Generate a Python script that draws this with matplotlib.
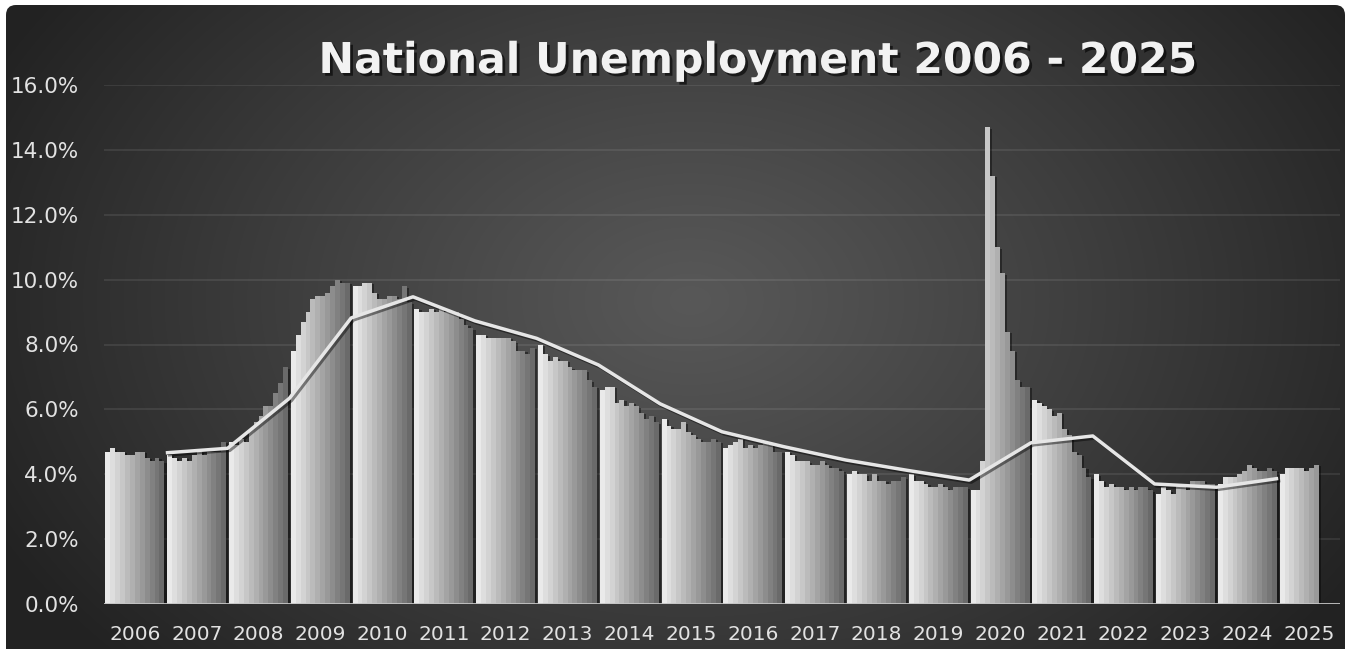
import numpy as np
import matplotlib
matplotlib.use("Agg")
import matplotlib.pyplot as plt
from matplotlib import patheffects as pe
from matplotlib.patches import FancyBboxPatch

# ---------------- data ----------------
years = [str(y) for y in range(2006, 2026)]
months = ["Jan", "Feb", "Mar", "Apr", "May", "Jun",
          "Jul", "Aug", "Sep", "Oct", "Nov", "Dec"]

u2006 = [4.7, 4.8, 4.7, 4.7, 4.6, 4.6, 4.7, 4.7, 4.5, 4.4, 4.5, 4.4]
u2007 = [4.6, 4.5, 4.4, 4.5, 4.4, 4.6, 4.7, 4.6, 4.7, 4.7, 4.7, 5.0]
u2008 = [5.0, 4.9, 5.1, 5.0, 5.4, 5.6, 5.8, 6.1, 6.1, 6.5, 6.8, 7.3]
u2009 = [7.8, 8.3, 8.7, 9.0, 9.4, 9.5, 9.5, 9.6, 9.8, 10.0, 9.9, 9.9]
u2010 = [9.8, 9.8, 9.9, 9.9, 9.6, 9.4, 9.4, 9.5, 9.5, 9.4, 9.8, 9.3]
u2011 = [9.1, 9.0, 9.0, 9.1, 9.0, 9.1, 9.0, 9.0, 9.0, 8.8, 8.6, 8.5]
u2012 = [8.3, 8.3, 8.2, 8.2, 8.2, 8.2, 8.2, 8.1, 7.8, 7.8, 7.7, 7.9]
u2013 = [8.0, 7.7, 7.5, 7.6, 7.5, 7.5, 7.3, 7.2, 7.2, 7.2, 6.9, 6.7]
u2014 = [6.6, 6.7, 6.7, 6.2, 6.3, 6.1, 6.2, 6.1, 5.9, 5.7, 5.8, 5.6]
u2015 = [5.7, 5.5, 5.4, 5.4, 5.6, 5.3, 5.2, 5.1, 5.0, 5.0, 5.1, 5.0]
u2016 = [4.8, 4.9, 5.0, 5.1, 4.8, 4.9, 4.8, 4.9, 5.0, 4.9, 4.7, 4.7]
u2017 = [4.7, 4.6, 4.4, 4.4, 4.4, 4.3, 4.3, 4.4, 4.3, 4.2, 4.2, 4.1]
u2018 = [4.0, 4.1, 4.0, 4.0, 3.8, 4.0, 3.8, 3.8, 3.7, 3.8, 3.8, 3.9]
u2019 = [4.0, 3.8, 3.8, 3.7, 3.6, 3.6, 3.7, 3.6, 3.5, 3.6, 3.6, 3.6]
u2020 = [3.5, 3.5, 4.4, 14.7, 13.2, 11.0, 10.2, 8.4, 7.8, 6.9, 6.7, 6.7]
u2021 = [6.3, 6.2, 6.1, 6.0, 5.8, 5.9, 5.4, 5.2, 4.7, 4.6, 4.2, 3.9]
u2022 = [4.0, 3.8, 3.6, 3.7, 3.6, 3.6, 3.5, 3.6, 3.5, 3.6, 3.6, 3.5]
u2023 = [3.4, 3.6, 3.5, 3.4, 3.7, 3.6, 3.5, 3.8, 3.8, 3.8, 3.7, 3.7]
u2024 = [3.7, 3.9, 3.9, 3.9, 4.0, 4.1, 4.3, 4.2, 4.1, 4.1, 4.2, 4.1]
u2025 = [4.0, 4.2, 4.2, 4.2, 4.2, 4.1, 4.2, 4.3]

rates_by_year = [u2006, u2007, u2008, u2009, u2010, u2011, u2012, u2013,
                 u2014, u2015, u2016, u2017, u2018, u2019, u2020, u2021,
                 u2022, u2023, u2024, u2025]

# trend line, one point at the start of each year 2007..2025
trend_years = years[1:]
trend_values = [4.66, 4.80, 6.34, 8.82, 9.47, 8.73, 8.19, 7.37, 6.17, 5.31,
                4.85, 4.44, 4.12, 3.82, 4.97, 5.18, 3.70, 3.60, 3.87]

title = "National Unemployment 2006 - 2025"

# ---------------- figure ----------------
W, H = 1349, 649
fig = plt.figure(figsize=(W / 100, H / 100), dpi=100)
fig.patch.set_facecolor("white")

# radial gradient background inside a rounded frame
bg = fig.add_axes([0, 0, 1, 1], zorder=-10)
yy, xx = np.mgrid[0:H, 0:W]
cx, cy = 690, 300
r = np.sqrt(((xx - cx) / 780.0) ** 2 + ((yy - cy) / 540.0) ** 2)
t = np.clip(r, 0, 1) ** 1.1
c0 = np.array([0x58, 0x58, 0x58]) / 255.0
c1 = np.array([0x22, 0x22, 0x22]) / 255.0
img = c0 + (c1 - c0) * t[..., None]
im = bg.imshow(img, extent=[0, W, H, 0], aspect="auto", interpolation="bilinear")
bg.set_xlim(0, W)
bg.set_ylim(H, 0)
bg.set_axis_off()
frame = FancyBboxPatch((6, 5), W - 10, H + 30,
                       boxstyle="round,pad=0,rounding_size=10",
                       transform=bg.transData, facecolor="none", edgecolor="none")
bg.add_patch(frame)
im.set_clip_path(frame)

# main axes
left, right, top, bottom = 104, 1340, 85, 604
ax = fig.add_axes([left / W, 1 - bottom / H, (right - left) / W, (bottom - top) / H])
ax.patch.set_alpha(0)
ax.set_xlim(-0.5, len(years) - 0.5)
ax.set_ylim(0, 16)

# bars: 12 monthly series clustered by year
group = 0.955
w = group / 12
shade_light = np.array([0xea, 0xea, 0xea]) / 255.0
shade_dark = np.array([0x6a, 0x6a, 0x6a]) / 255.0
for j in range(12):
    xs, hs = [], []
    for i, vals in enumerate(rates_by_year):
        if j < len(vals):
            xs.append(i - group / 2 + w * (j + 0.5))
            hs.append(vals[j])
    col = shade_light + (shade_dark - shade_light) * (j / 11.0)
    ax.bar(xs, hs, width=w, color=col, linewidth=0, zorder=3, antialiased=False,
           path_effects=[pe.SimplePatchShadow(offset=(1.6, -1.0),
                                              shadow_rgbFace="black", alpha=0.4),
                         pe.Normal()])

# trend line
tx = [years.index(y) - 0.5 for y in trend_years]
ax.plot(tx, trend_values, color="#e6e6e6", lw=2.5, zorder=6,
        solid_capstyle="butt", solid_joinstyle="round",
        path_effects=[pe.SimpleLineShadow(offset=(1.5, -1.5), shadow_color="black", alpha=0.45),
                      pe.Normal()])

# axis line at zero
ax.axhline(0, color="#c4c4c4", lw=2.0, zorder=5)

# grid / ticks
ax.set_yticks(np.arange(0, 17, 2))
ax.set_yticklabels([f"{v:.1f}%" for v in np.arange(0, 17, 2)])
ax.yaxis.grid(True, color="white", alpha=0.09, lw=1.3, zorder=0)
ax.set_axisbelow(True)
ax.set_xticks(range(len(years)))
ax.set_xticklabels(years)
for sp in ax.spines.values():
    sp.set_visible(False)
ax.tick_params(axis="y", length=0, pad=18, labelsize=15.5, labelcolor="#e2e2e2")
ax.tick_params(axis="x", length=0, pad=15, labelsize=14.5, labelcolor="#e2e2e2")

# title
fig.text(758 / W, 1 - 73 / H, title, ha="center", va="baseline",
         fontsize=30.6, fontweight="bold", color="#f2f2f2",
         path_effects=[pe.SimplePatchShadow(offset=(2, -2), shadow_rgbFace="black", alpha=0.6),
                       pe.Normal()])

fig.savefig("out.png", dpi=100)
